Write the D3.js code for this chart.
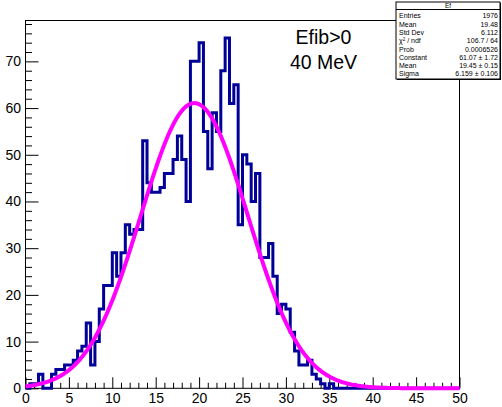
<!DOCTYPE html>
<html>
<head>
<meta charset="utf-8">
<script src="https://cdn.jsdelivr.net/npm/d3@7"></script>
<style>
  html, body { margin: 0; padding: 0; background: #fff; }
  svg { display: block; font-family: "Liberation Sans", Arial, Helvetica, sans-serif; }
</style>
</head>
<body>
<svg id="chart" width="502" height="407"></svg>
<script>
// Histogram "Ef": 100 bins over [0, 50]
const xRange = [0, 50];
const counts = [
  0, 1, 1, 3, 0, 0, 3, 4, 4, 5,
  5, 6, 8, 9, 14, 5, 10, 17, 22, 22,
  29, 24, 29, 35, 33, 34, 34, 53, 44, 42,
  42, 43, 46, 46, 49, 54, 49, 40, 70, 70,
  74, 55, 47, 59, 55, 68, 75, 61, 65, 35,
  50, 48, 40, 46, 28, 28, 31, 24, 16, 18,
  17, 12, 8, 5, 5, 6, 3, 2, 1, 0,
  1, 0, 0, 0, 0, 0, 0, 0, 0, 0,
  0, 0, 0, 0, 0, 0, 0, 0, 0, 0,
  0, 0, 0, 0, 0, 0, 0, 0, 0, 0
];

// Gaussian fit result
const fitConstant = 61.07;
const fitMean = 19.45;
const fitSigma = 6.159;

// Axis ticks
const xMajorTicks = [0, 5, 10, 15, 20, 25, 30, 35, 40, 45, 50];
const yMajorTicks = [0, 10, 20, 30, 40, 50, 60, 70];

// Statistics box
const statTitle = "Ef";
const statLabels = ["Entries", "Mean", "Std Dev", "χ2 / ndf", "Prob", "Constant", "Mean", "Sigma"];
const statValues = ["1976", "19.48", "6.112", "106.7 / 64", "0.0006526", "61.07 ± 1.72", "19.45 ± 0.15", "6.159 ± 0.106"];

// Annotation
const noteLines = ["Efib>0", "40 MeV"];

const svg = d3.select("#chart");
const frame = { left: 25.5, right: 459.5, top: 20.5, bottom: 388.3 };
const yMax = d3.max(counts) * 1.05;

const x = d3.scaleLinear().domain(xRange).range([frame.left, frame.right]);
const y = d3.scaleLinear().domain([0, yMax]).range([frame.bottom, frame.top]);

const binWidth = (xRange[1] - xRange[0]) / counts.length;

// Frame
svg.append("rect")
  .attr("x", frame.left).attr("y", frame.top)
  .attr("width", frame.right - frame.left).attr("height", frame.bottom - frame.top)
  .attr("fill", "none").attr("stroke", "#000").attr("stroke-width", 1);

// Axes (ticks point into the frame)
const xMinor = d3.range(xRange[0], xRange[1] + 0.001, 1).filter(v => v % 5 !== 0);
const yMinor = d3.range(0, yMax, 2).filter(v => v % 10 !== 0);

function styleAxis(g) {
  g.select(".domain").remove();
  g.selectAll("line").attr("stroke", "#000").attr("stroke-width", 1);
  g.selectAll("text").attr("font-size", 14).attr("fill", "#000")
    .attr("font-family", "\"Liberation Sans\", Arial, Helvetica, sans-serif");
}

svg.append("g").attr("transform", `translate(0,${frame.bottom})`)
  .call(d3.axisBottom(x).tickValues(xMinor).tickSize(-5.5).tickFormat(""))
  .call(styleAxis);
svg.append("g").attr("transform", `translate(0,${frame.bottom})`)
  .call(d3.axisBottom(x).tickValues(xMajorTicks).tickSize(-11).tickPadding(4.5).tickFormat(d3.format("d")))
  .call(styleAxis);

svg.append("g").attr("transform", `translate(${frame.left},0)`)
  .call(d3.axisLeft(y).tickValues(yMinor).tickSize(-6.5).tickFormat(""))
  .call(styleAxis);
svg.append("g").attr("transform", `translate(${frame.left},0)`)
  .call(d3.axisLeft(y).tickValues(yMajorTicks).tickSize(-13).tickPadding(4.5).tickFormat(d3.format("d")))
  .call(styleAxis);

// Histogram outline
const steps = [[xRange[0], 0]];
counts.forEach((c, i) => {
  const x0 = xRange[0] + i * binWidth;
  steps.push([x0, c], [x0 + binWidth, c]);
});
steps.push([xRange[1], 0]);

svg.append("path")
  .datum(steps)
  .attr("d", d3.line().x(d => x(d[0])).y(d => y(d[1])))
  .attr("fill", "none")
  .attr("stroke", "#000099")
  .attr("stroke-width", 3)
  .attr("stroke-linejoin", "miter");

// Gaussian fit curve
const gauss = v => fitConstant * Math.exp(-0.5 * Math.pow((v - fitMean) / fitSigma, 2));
const fitPts = d3.range(xRange[0], xRange[1] + 0.0001, 0.1).map(v => [v, gauss(v)]);
svg.append("path")
  .datum(fitPts)
  .attr("d", d3.line().x(d => x(d[0])).y(d => y(d[1])).curve(d3.curveLinear))
  .attr("fill", "none")
  .attr("stroke", "#ff00ff")
  .attr("stroke-width", 4)
  .attr("stroke-linejoin", "round");

// Annotation text
svg.append("g").selectAll("text").data(noteLines).join("text")
  .attr("x", 323.5)
  .attr("y", (d, i) => 44 + i * 25)
  .attr("text-anchor", "middle")
  .attr("font-size", 19.5)
  .attr("fill", "#000")
  .text(d => d);

// Statistics box
const box = { x: 396, y: 2, w: 104, h: 77 };
svg.append("rect")
  .attr("x", box.x + 1).attr("y", box.y + 1).attr("width", box.w).attr("height", box.h)
  .attr("fill", "#000");
svg.append("rect")
  .attr("x", box.x).attr("y", box.y).attr("width", box.w).attr("height", box.h)
  .attr("fill", "#fff").attr("stroke", "#000").attr("stroke-width", 1);
svg.append("line")
  .attr("x1", box.x).attr("x2", box.x + box.w)
  .attr("y1", 9.5).attr("y2", 9.5)
  .attr("stroke", "#000").attr("stroke-width", 1);
svg.append("text")
  .attr("x", box.x + box.w / 2).attr("y", 8)
  .attr("text-anchor", "middle").attr("font-size", 6.5).text(statTitle);

const rowY = i => 18.3 + i * 8.3;
const labelG = svg.append("g").attr("font-size", 7).attr("fill", "#000");
statLabels.forEach((lab, i) => {
  const t = labelG.append("text").attr("x", box.x + 3).attr("y", rowY(i));
  if (lab.startsWith("χ2")) {
    t.append("tspan").text("χ");
    t.append("tspan").attr("font-size", 4.5).attr("dy", -2.5).text("2");
    t.append("tspan").attr("dy", 2.5).text(" / ndf");
  } else {
    t.text(lab);
  }
  labelG.append("text").attr("x", box.x + box.w - 2).attr("y", rowY(i))
    .attr("text-anchor", "end").text(statValues[i]);
});
</script>
</body>
</html>
